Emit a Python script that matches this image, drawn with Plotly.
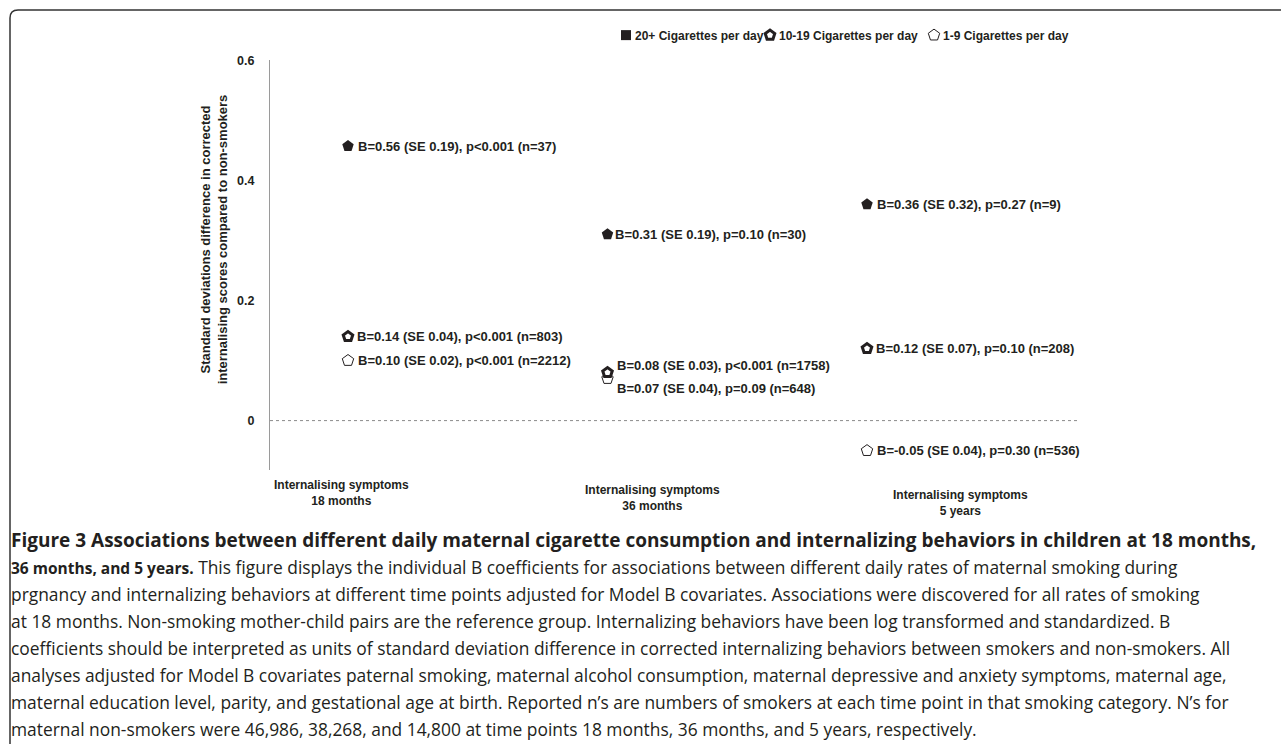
import plotly.graph_objects as go

# ---------------- data ----------------
categories = ["Internalising symptoms", "Internalising symptoms", "Internalising symptoms"]
timepoints = ["18 months", "36 months", "5 years"]
series_names = ["20+ Cigarettes per day", "10-19 Cigarettes per day", "1-9 Cigarettes per day"]

b_20 = [0.56, 0.31, 0.36]
se_20 = [0.19, 0.19, 0.32]
p_20 = ["p&lt;0.001", "p=0.10", "p=0.27"]
n_20 = [37, 30, 9]
# the 18-month 20+ marker is drawn at about 0.46 in the figure
y_20_drawn = [0.457, 0.31, 0.36]

b_1019 = [0.14, 0.08, 0.12]
se_1019 = [0.04, 0.03, 0.07]
p_1019 = ["p&lt;0.001", "p&lt;0.001", "p=0.10"]
n_1019 = [803, 1758, 208]

b_19 = [0.10, 0.07, -0.05]
se_19 = [0.02, 0.04, 0.04]
p_19 = ["p&lt;0.001", "p=0.09", "p=0.30"]
n_19 = [2212, 648, 536]

y_ticks = [0, 0.2, 0.4, 0.6]
y_tick_labels = ["0", "0.2", "0.4", "0.6"]

caption_lines = [
    "<b>Figure 3 Associations between different daily maternal cigarette consumption and internalizing behaviors in children at 18 months,</b>",
    "<b>36 months, and 5 years.</b> This figure displays the individual B coefficients for associations between different daily rates of maternal smoking during",
    "prgnancy and internalizing behaviors at different time points adjusted for Model B covariates. Associations were discovered for all rates of smoking",
    "at 18 months. Non-smoking mother-child pairs are the reference group. Internalizing behaviors have been log transformed and standardized. B",
    "coefficients should be interpreted as units of standard deviation difference in corrected internalizing behaviors between smokers and non-smokers. All",
    "analyses adjusted for Model B covariates paternal smoking, maternal alcohol consumption, maternal depressive and anxiety symptoms, maternal age,",
    "maternal education level, parity, and gestational age at birth. Reported n\u2019s are numbers of smokers at each time point in that smoking category. N\u2019s for",
    "maternal non-smokers were 46,986, 38,268, and 14,800 at time points 18 months, 36 months, and 5 years, respectively.",
]

# ---------------- layout geometry ----------------
W, H = 1281, 744
# The page is shown 8 px down and scaled 744/752 vertically; convert
# target screen y (pixels) into figure y (pixels).
PAGE_OFF, PAGE_H = 8, 752


def fy(screen_y):
    return screen_y * PAGE_H / H - PAGE_OFF


PX_L, PX_R, PX_T, PX_B = 270, 1077, 61, 470
PX_ZERO = 421
X_FIRST, X_UNIT = 348, 259.5

T_F, B_F, Z_F = fy(PX_T), fy(PX_B), fy(PX_ZERO)
ymin = -y_ticks[-1] * (B_F - Z_F) / (Z_F - T_F)
xmin = -(X_FIRST - PX_L) / X_UNIT
xmax = (PX_R - X_FIRST) / X_UNIT

FONT = "Liberation Sans, Arial, sans-serif"
INK = "#231f20"

xs = list(range(len(timepoints)))


def label(b, se, p, n):
    return f"<b>B={b:.2f} (SE {se:.2f}), {p} (n={n})</b>"


fig = go.Figure()

# data markers
fig.add_trace(go.Scatter(
    x=xs, y=y_20_drawn, mode="markers", name=series_names[0], showlegend=False,
    marker=dict(symbol="pentagon", size=12, color=INK, line=dict(width=0)),
    cliponaxis=False))
fig.add_trace(go.Scatter(
    x=xs, y=b_19, mode="markers", name=series_names[2], showlegend=False,
    marker=dict(symbol="pentagon", size=12, color="white", line=dict(width=1, color=INK)),
    cliponaxis=False))
fig.add_trace(go.Scatter(
    x=xs, y=b_1019, mode="markers", name=series_names[1], showlegend=False,
    marker=dict(symbol="pentagon", size=10, color="white", line=dict(width=3, color=INK)),
    cliponaxis=False))

annotations = []
# point labels
shifts_20 = [(8, 0), (5, 0), (8, 0)]
shifts_1019 = [(7, 0), (7, 7), (7, 0)]
shifts_19 = [(8, 0), (7, -10), (8, 0)]
for series, shifts in [
    ((y_20_drawn, b_20, se_20, p_20, n_20), shifts_20),
    ((b_1019, b_1019, se_1019, p_1019, n_1019), shifts_1019),
    ((b_19, b_19, se_19, p_19, n_19), shifts_19),
]:
    ys, bs, ses, ps, ns = series
    for i in range(len(xs)):
        annotations.append(dict(
            x=xs[i], y=ys[i], xref="x", yref="y", xanchor="left", yanchor="middle",
            xshift=shifts[i][0], yshift=shifts[i][1], showarrow=False,
            text=label(bs[i], ses[i], ps[i], ns[i]),
            font=dict(family=FONT, size=13, color=INK)))

# category labels (pixel positions)
cat_pos = [(341, 493), (652, 498), (960, 503)]
for i in range(len(timepoints)):
    annotations.append(dict(
        x=cat_pos[i][0], y=fy(cat_pos[i][1]), xref="x2", yref="y2",
        xanchor="center", yanchor="middle", showarrow=False, align="center",
        text=f"<b>{categories[i]}<br>{timepoints[i]}</b>",
        font=dict(family=FONT, size=12, color=INK)))

# y axis title
annotations.append(dict(
    x=214, y=fy(240), xref="x2", yref="y2", xanchor="center", yanchor="middle",
    showarrow=False, textangle=-90, align="center",
    text="<b>Standard deviations difference in corrected<br>internalising scores compared to non-smokers</b>",
    font=dict(family=FONT, size=13, color=INK)))

# legend (manual)
legend_pos = [(626, 633), (770, 777), (934, 941)]
legend_y = 36
for i, name in enumerate(series_names):
    annotations.append(dict(
        x=legend_pos[i][1], y=fy(legend_y + 1), xref="x2", yref="y2",
        xanchor="left", yanchor="middle", showarrow=False,
        text=f"<b>{name}</b>", font=dict(family=FONT, size=12, color=INK)))

fig.add_trace(go.Scatter(
    x=[legend_pos[0][0]], y=[fy(legend_y)], xaxis="x2", yaxis="y2", mode="markers",
    showlegend=False, cliponaxis=False, hoverinfo="skip",
    marker=dict(symbol="square", size=10, color=INK, line=dict(width=0))))
fig.add_trace(go.Scatter(
    x=[legend_pos[1][0]], y=[fy(legend_y)], xaxis="x2", yaxis="y2", mode="markers",
    showlegend=False, cliponaxis=False, hoverinfo="skip",
    marker=dict(symbol="pentagon", size=10, color="white", line=dict(width=3, color=INK))))
fig.add_trace(go.Scatter(
    x=[legend_pos[2][0]], y=[fy(legend_y)], xaxis="x2", yaxis="y2", mode="markers",
    showlegend=False, cliponaxis=False, hoverinfo="skip",
    marker=dict(symbol="pentagon", size=12, color="white", line=dict(width=1, color=INK))))

# caption
CAP_FONT = "Open Sans, Noto Sans, sans-serif"
bold_sizes = [19, 15.5] + [17] * 6
for i, line in enumerate(caption_lines):
    line = line.replace("<b>", f"<b><span style='font-size:{bold_sizes[i]}px'>").replace("</b>", "</span></b>")
    annotations.append(dict(
        x=9, y=fy(540 + 27 * i), xref="x2", yref="y2", xanchor="left", yanchor="middle",
        showarrow=False, align="left", text=line,
        font=dict(family=CAP_FONT, size=17.4, color=INK)))

shapes = [
    # zero reference line
    dict(type="line", xref="x domain", yref="y", x0=0, x1=1, y0=0, y1=0,
         line=dict(color="#8a8a8a", width=1, dash="dot")),
    # figure frame
    dict(type="path", xref="x2", yref="y2",
         path=f"M 1295,{fy(11):.1f} L 18,{fy(11):.1f} Q 10,{fy(11):.1f} 10,{fy(19):.1f} L 10,{fy(770):.1f}",
         line=dict(color="#333333", width=1.5)),
]

fig.update_layout(
    width=W, height=H,
    margin=dict(l=0, r=0, t=0, b=0),
    paper_bgcolor="white", plot_bgcolor="rgba(0,0,0,0)",
    showlegend=False,
    xaxis=dict(domain=[PX_L / W, PX_R / W], range=[xmin, xmax], visible=False,
               showgrid=False, zeroline=False, fixedrange=True),
    yaxis=dict(domain=[(H - B_F) / H, (H - T_F) / H], range=[ymin, y_ticks[-1]],
               showgrid=False, zeroline=False, showline=True, linecolor="#9a9a9a",
               linewidth=1, tickvals=y_ticks, ticktext=[f"<b>{t}</b>" for t in y_tick_labels],
               ticks="", ticklabelstandoff=12,
               tickfont=dict(family=FONT, size=12.5, color=INK), fixedrange=True),
    xaxis2=dict(domain=[0, 1], range=[0, W], visible=False, anchor="y2", fixedrange=True),
    yaxis2=dict(domain=[0, 1], range=[H, 0], visible=False, anchor="x2", fixedrange=True),
    annotations=annotations,
    shapes=shapes,
)

fig.write_html(
    "out.html",
    config={"displayModeBar": False},
    post_script=(
        "document.documentElement.style.margin='0';"
        "document.body.style.margin='0';"
    ),
)
